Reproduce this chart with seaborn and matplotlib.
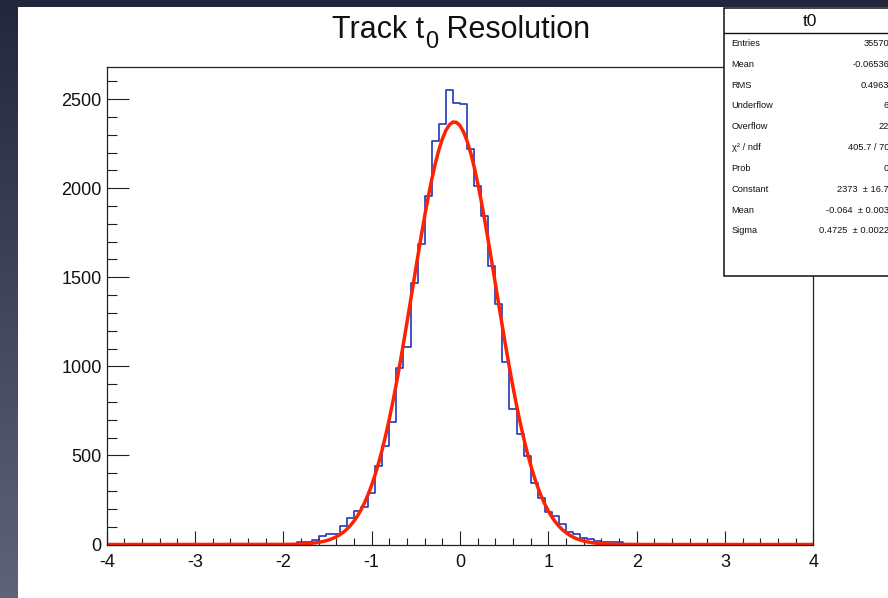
import numpy as np
import pandas as pd
import matplotlib
matplotlib.use("Agg")
import matplotlib.pyplot as plt
from matplotlib.colors import LinearSegmentedColormap
from matplotlib.patches import Rectangle
from matplotlib.lines import Line2D
from matplotlib.ticker import MultipleLocator, FormatStrFormatter
import seaborn as sns

# -------------------- DATA --------------------
n_bins = 100
x_min, x_max = -4.0, 4.0
first_filled_bin = 27  # bins below this one (lower edge -1.84) are empty

counts = [12, 12, 25, 49, 57, 60, 104, 151, 190, 212,
          291, 441, 553, 690, 990, 1111, 1467, 1688, 1958, 2263,
          2362, 2553, 2479, 2473, 2220, 2014, 1845, 1561, 1350, 1027,
          761, 619, 499, 344, 263, 184, 160, 115, 72, 57,
          35, 29, 21, 16, 16, 16]

# gaus fit result (from the stats box)
fit_constant = 2373
fit_mean = -0.064
fit_sigma = 0.4725

title_parts = ["Track t", "0", " Resolution"]  # middle part is the subscript

stats_title = "t0"
stats_labels = ["Entries", "Mean", "RMS", "Underflow", "Overflow",
                "χ² / ndf", "Prob", "Constant", "Mean", "Sigma"]
stats_values = ["35570", "-0.06536", "0.4963", "6", "22",
                "405.7 / 70", "0", "2373  ± 16.7", "-0.064  ± 0.003",
                "0.4725  ± 0.0022"]

# -------------------- STYLE --------------------
sns.set_style("ticks")
plt.rcParams["font.family"] = ["Liberation Sans", "DejaVu Sans"]
plt.rcParams["axes.unicode_minus"] = False

W, H = 888, 598
fig = plt.figure(figsize=(W / 100, H / 100), dpi=100)

# slide background + white canvas
bg = fig.add_axes([0, 0, 1, 1])
bg.set_zorder(-1)
grad = np.linspace(0, 1, 256).reshape(-1, 1)
bg_cmap = LinearSegmentedColormap.from_list("slide", ["#23263c", "#60627a"])
bg.imshow(grad, aspect="auto", cmap=bg_cmap, extent=[0, 1, 0, 1], origin="upper")
bg.add_patch(Rectangle((18 / W, 0), 1, 1 - 7 / H, facecolor="white",
                       edgecolor="none", transform=bg.transAxes))
bg.set_xlim(0, 1)
bg.set_ylim(0, 1)
bg.axis("off")

# -------------------- HISTOGRAM --------------------
bin_w = (x_max - x_min) / n_bins
centers = x_min + bin_w * (np.arange(n_bins) + 0.5)
weights = np.zeros(n_bins)
weights[first_filled_bin:first_filled_bin + len(counts)] = counts
df = pd.DataFrame({"t0": centers, "n": weights})

ax = fig.add_axes([106.7 / W, 1 - 544.5 / H, (813.3 - 106.7) / W, (544.5 - 67) / H])
ax.set_facecolor("white")

sns.histplot(data=df, x="t0", weights="n", bins=n_bins, binrange=(x_min, x_max),
             element="step", fill=False, color="#2038bb", linewidth=1.2, ax=ax)

xs = np.linspace(x_min, x_max, 201)
fit_y = fit_constant * np.exp(-0.5 * ((xs - fit_mean) / fit_sigma) ** 2)
sns.lineplot(x=xs, y=fit_y, color="#ff2200", linewidth=2.5, ax=ax)

ax.set_xlim(x_min, x_max)
ax.set_ylim(0, 1.05 * max(counts))
ax.set_xlabel("")
ax.set_ylabel("")

ax.xaxis.set_major_locator(MultipleLocator(1))
ax.xaxis.set_minor_locator(MultipleLocator(0.2))
ax.yaxis.set_major_locator(MultipleLocator(500))
ax.yaxis.set_minor_locator(MultipleLocator(100))
ax.xaxis.set_major_formatter(FormatStrFormatter("%d"))
ax.yaxis.set_major_formatter(FormatStrFormatter("%d"))

ax.tick_params(which="both", direction="in", top=False, right=False,
               color="#222222", width=0.8, labelcolor="#111111")
ax.tick_params(axis="y", which="major", length=15.6, pad=3.6, labelsize=13)
ax.tick_params(axis="y", which="minor", length=7.5)
ax.tick_params(axis="x", which="major", length=10, pad=6.5, labelsize=13)
ax.tick_params(axis="x", which="minor", length=5)
for sp in ax.spines.values():
    sp.set_visible(True)
    sp.set_color("#222222")
    sp.set_linewidth(0.9)

# -------------------- TITLE (ROOT style, big subscript) --------------------
renderer = fig.canvas.get_renderer()
title_base = 1 - 37.7 / H
x_cur = 331.7 / W
for i, part in enumerate(title_parts):
    is_sub = (i == 1)
    t = fig.text(x_cur + (1.5 / W if is_sub else 0),
                 title_base - (10 / H if is_sub else 0), part,
                 ha="left", va="baseline", fontsize=17 if is_sub else 22,
                 color="#111111")
    bb = t.get_window_extent(renderer)
    x_cur = bb.x1 / W

# -------------------- STATS BOX --------------------
box_l, box_r = 724 / W, 896 / W
box_t, box_b = 1 - 8.3 / H, 1 - 276 / H
fig.add_artist(Rectangle((box_l, box_b), box_r - box_l, box_t - box_b,
                         transform=fig.transFigure, facecolor="white",
                         edgecolor="#111111", linewidth=1.1, zorder=3))
sep_y = 1 - 32.7 / H
fig.add_artist(Line2D([box_l, box_r], [sep_y, sep_y], transform=fig.transFigure,
                      color="#111111", linewidth=1.0, zorder=4))
fig.text(810 / W, 1 - 21 / H, stats_title, ha="center", va="center",
         fontsize=12.5, color="#111111", zorder=5)
for i, (lab, val) in enumerate(zip(stats_labels, stats_values)):
    yy = 1 - (43.3 + 20.85 * i) / H
    fig.text(731.7 / W, yy, lab, ha="left", va="center", fontsize=6.7,
             color="#111111", zorder=5)
    fig.text(889 / W, yy, val, ha="right", va="center", fontsize=6.7,
             color="#111111", zorder=5)

fig.savefig("out.png", dpi=100)
